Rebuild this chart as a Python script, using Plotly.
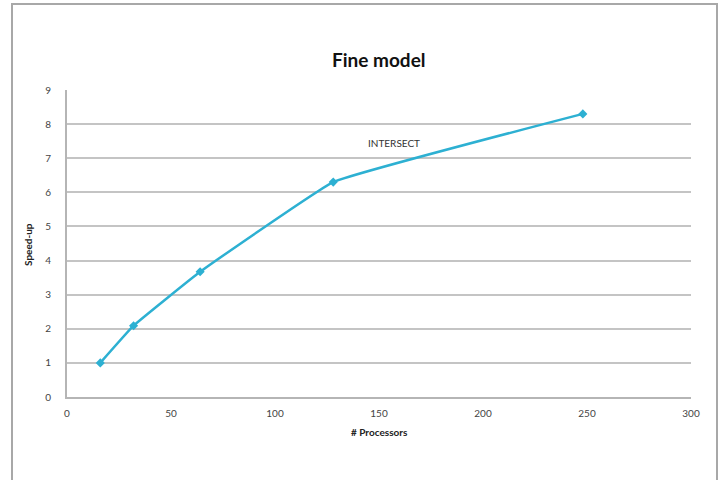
import plotly.graph_objects as go

processors = [16, 32, 64, 128, 248]
speedup = [1.0, 2.09, 3.67, 6.3, 8.3]
x_ticks = [0, 50, 100, 150, 200, 250, 300]
y_ticks = [0, 1, 2, 3, 4, 5, 6, 7, 8, 9]
title_text = "Fine model"
x_title = "# Processors"
y_title = "Speed-up"
annot_text = "INTERSECT"
annot_x = 157
annot_y = 7.45

W, H = 722, 480
ml, mr, mt, mb = 67, 31, 90, 83
pw = W - ml - mr
ph = H - mt - mb

def px(xp):
    return (xp - ml) / pw

def py(yp):
    return (H - mb - yp) / ph

fig = go.Figure()
fig.add_trace(go.Scatter(
    x=processors, y=speedup, mode="lines+markers",
    line=dict(color="#2db0d2", width=2.5, shape="spline", smoothing=0.25),
    marker=dict(symbol="diamond", size=7, color="#2db0d2"),
    showlegend=False, hoverinfo="x+y",
))

fig.add_annotation(x=annot_x, y=annot_y, text=annot_text, showarrow=False,
                   font=dict(family="Lato, Open Sans, sans-serif", size=10, color="#333"))

fig.add_annotation(xref="paper", yref="paper", x=0.5, y=py(60), text="<b>" + title_text + "</b>",
                   showarrow=False, font=dict(family="Lato, Open Sans, sans-serif", size=19, color="#111"),
                   xanchor="center", yanchor="middle")

fig.add_annotation(xref="paper", yref="paper", x=px(28), y=py(245), text="<b>" + y_title + "</b>",
                   showarrow=False, textangle=-90, font=dict(family="Lato, Open Sans, sans-serif", size=10, color="#222"),
                   xanchor="center", yanchor="middle")

fig.add_annotation(xref="paper", yref="paper", x=0.5, y=py(432), text="<b>" + x_title + "</b>",
                   showarrow=False, font=dict(family="Lato, Open Sans, sans-serif", size=10, color="#222"),
                   xanchor="center", yanchor="middle")

# outer frame
fig.add_shape(type="rect", xref="paper", yref="paper",
              x0=px(12), x1=px(717), y0=py(495), y1=py(4),
              line=dict(color="#a8a8a8", width=2), fillcolor="rgba(0,0,0,0)", layer="below")

fig.update_layout(
    width=W, height=H,
    margin=dict(l=ml, r=mr, t=mt, b=mb, autoexpand=False),
    paper_bgcolor="white", plot_bgcolor="white",
    font=dict(family="Lato, Open Sans, sans-serif", size=10, color="#333"),
    xaxis=dict(range=[0, 300], tickvals=x_ticks, showgrid=False, zeroline=False,
               showline=True, linecolor="#b5b5b5", linewidth=2,
               ticks="", ticklen=0, ticklabelstandoff=6, tickfont=dict(size=10, color="#444")),
    yaxis=dict(range=[0, 9], tickvals=y_ticks, showgrid=True, gridcolor="#c4c4c4", gridwidth=1.5,
               zeroline=False, showline=True, linecolor="#b5b5b5", linewidth=2,
               ticks="", ticklabelstandoff=12, tickfont=dict(size=10, color="#444")),
)

fig.write_html("out.html", config={"displayModeBar": False},
               post_script="document.body.style.margin='0';")
with open("out.html", "r", encoding="utf-8") as f:
    html = f.read()
html = html.replace("<head>", "<head><style>html,body{margin:0;padding:0;}</style>", 1)
with open("out.html", "w", encoding="utf-8") as f:
    f.write(html)
